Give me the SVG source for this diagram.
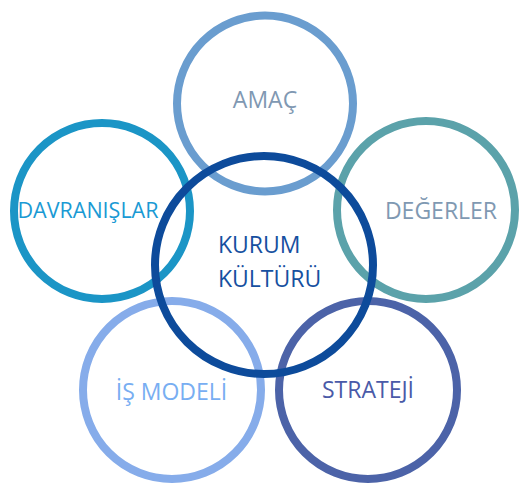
<svg xmlns="http://www.w3.org/2000/svg" width="528" height="496" viewBox="0 0 528 496">
<style>
  .c { fill: none; stroke-width: 8; }
  .t { font-family: "Open Sans", "Liberation Sans", sans-serif; font-size: 23px; }
  .s { font-size: 21.5px; }
</style>
<rect width="528" height="496" fill="#ffffff"/>
<g id="amac">
  <circle class="c" cx="265" cy="103.5" r="88" stroke="#6a9dcf"/>
  <text class="t" x="265" y="108" text-anchor="middle" fill="#8098b2">AMAÇ</text>
</g>
<g id="davranislar">
  <circle class="c" cx="102" cy="211" r="88" stroke="#1b95c6"/>
  <text class="t s" x="88" y="218" text-anchor="middle" fill="#1a9ad4">DAVRANIŞLAR</text>
</g>
<g id="degerler">
  <circle class="c" cx="426" cy="210" r="89" stroke="#5ba2aa"/>
  <text class="t" x="441" y="219" text-anchor="middle" fill="#7f99b2">DEĞERLER</text>
</g>
<g id="is-modeli">
  <circle class="c" cx="172" cy="390" r="89" stroke="#86acea"/>
  <text class="t" x="171.5" y="400" text-anchor="middle" fill="#78aef2">İŞ MODELİ</text>
</g>
<g id="strateji">
  <circle class="c" cx="368" cy="390" r="89" stroke="#4c63a8"/>
  <text class="t" x="368" y="398" text-anchor="middle" fill="#4a5aa8">STRATEJİ</text>
</g>
<g id="kurum-kulturu">
  <circle class="c" cx="264" cy="265" r="109" stroke="#0d4b9b"/>
  <text class="t" x="218" y="253" fill="#1650a0">KURUM</text>
  <text class="t" x="218" y="287" fill="#1650a0">KÜLTÜRÜ</text>
</g>
<g id="connectors"/>
</svg>
